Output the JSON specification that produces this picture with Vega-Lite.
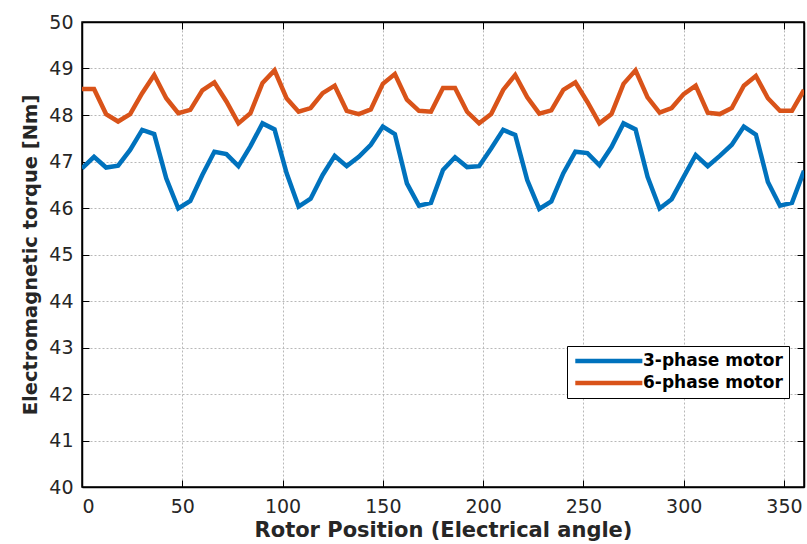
{
  "$schema": "https://vega.github.io/schema/vega-lite/v6.json",
  "autosize": "none",
  "width": 722,
  "height": 465,
  "padding": {"left": 82, "top": 22, "right": 3, "bottom": 57},
  "background": "white",
  "config": {
    "font": "DejaVu Sans",
    "view": {"stroke": "#000000", "strokeWidth": 1.5},
    "legend": {
      "fillColor": "#ffffff",
      "strokeColor": "#000000",
      "padding": 6
    },
    "axis": {
      "labelFont": "DejaVu Sans",
      "labelFontSize": 19,
      "labelColor": "#262626",
      "titleFont": "DejaVu Sans",
      "titleFontSize": 21,
      "titleFontWeight": "bold",
      "titleColor": "#262626",
      "domainColor": "#000000",
      "domainWidth": 1.5,
      "tickColor": "#000000",
      "tickSize": -7,
      "tickWidth": 1,
      "gridColor": "#b8b8b8",
      "gridDash": [2, 2],
      "gridWidth": 1
    }
  },
  "datasets": {
    "torque": [
      {"angle": 0, "3-phase motor": 46.85, "6-phase motor": 48.56},
      {"angle": 6, "3-phase motor": 47.10, "6-phase motor": 48.56},
      {"angle": 12, "3-phase motor": 46.87, "6-phase motor": 48.02},
      {"angle": 18, "3-phase motor": 46.91, "6-phase motor": 47.86},
      {"angle": 24, "3-phase motor": 47.25, "6-phase motor": 48.02},
      {"angle": 30, "3-phase motor": 47.68, "6-phase motor": 48.47},
      {"angle": 36, "3-phase motor": 47.59, "6-phase motor": 48.86},
      {"angle": 42, "3-phase motor": 46.64, "6-phase motor": 48.36},
      {"angle": 48, "3-phase motor": 45.99, "6-phase motor": 48.04},
      {"angle": 54, "3-phase motor": 46.15, "6-phase motor": 48.11},
      {"angle": 60, "3-phase motor": 46.71, "6-phase motor": 48.53},
      {"angle": 66, "3-phase motor": 47.21, "6-phase motor": 48.70},
      {"angle": 72, "3-phase motor": 47.16, "6-phase motor": 48.29},
      {"angle": 78, "3-phase motor": 46.90, "6-phase motor": 47.82},
      {"angle": 84, "3-phase motor": 47.33, "6-phase motor": 48.04},
      {"angle": 90, "3-phase motor": 47.82, "6-phase motor": 48.69},
      {"angle": 96, "3-phase motor": 47.69, "6-phase motor": 48.96},
      {"angle": 102, "3-phase motor": 46.75, "6-phase motor": 48.36},
      {"angle": 108, "3-phase motor": 46.03, "6-phase motor": 48.07},
      {"angle": 114, "3-phase motor": 46.20, "6-phase motor": 48.15},
      {"angle": 120, "3-phase motor": 46.71, "6-phase motor": 48.47},
      {"angle": 126, "3-phase motor": 47.12, "6-phase motor": 48.63},
      {"angle": 132, "3-phase motor": 46.90, "6-phase motor": 48.09},
      {"angle": 138, "3-phase motor": 47.10, "6-phase motor": 48.02},
      {"angle": 144, "3-phase motor": 47.36, "6-phase motor": 48.12},
      {"angle": 150, "3-phase motor": 47.75, "6-phase motor": 48.67},
      {"angle": 156, "3-phase motor": 47.59, "6-phase motor": 48.88},
      {"angle": 162, "3-phase motor": 46.53, "6-phase motor": 48.33},
      {"angle": 168, "3-phase motor": 46.05, "6-phase motor": 48.09},
      {"angle": 174, "3-phase motor": 46.11, "6-phase motor": 48.07},
      {"angle": 180, "3-phase motor": 46.82, "6-phase motor": 48.58},
      {"angle": 186, "3-phase motor": 47.09, "6-phase motor": 48.58},
      {"angle": 192, "3-phase motor": 46.88, "6-phase motor": 48.07},
      {"angle": 198, "3-phase motor": 46.90, "6-phase motor": 47.82},
      {"angle": 204, "3-phase motor": 47.28, "6-phase motor": 48.02},
      {"angle": 210, "3-phase motor": 47.68, "6-phase motor": 48.54},
      {"angle": 216, "3-phase motor": 47.57, "6-phase motor": 48.86},
      {"angle": 222, "3-phase motor": 46.60, "6-phase motor": 48.38},
      {"angle": 228, "3-phase motor": 45.98, "6-phase motor": 48.03},
      {"angle": 234, "3-phase motor": 46.14, "6-phase motor": 48.10},
      {"angle": 240, "3-phase motor": 46.75, "6-phase motor": 48.54},
      {"angle": 246, "3-phase motor": 47.21, "6-phase motor": 48.70},
      {"angle": 252, "3-phase motor": 47.18, "6-phase motor": 48.28},
      {"angle": 258, "3-phase motor": 46.92, "6-phase motor": 47.82},
      {"angle": 264, "3-phase motor": 47.31, "6-phase motor": 48.02},
      {"angle": 270, "3-phase motor": 47.82, "6-phase motor": 48.67},
      {"angle": 276, "3-phase motor": 47.69, "6-phase motor": 48.96},
      {"angle": 282, "3-phase motor": 46.67, "6-phase motor": 48.38},
      {"angle": 288, "3-phase motor": 45.99, "6-phase motor": 48.05},
      {"angle": 294, "3-phase motor": 46.19, "6-phase motor": 48.15},
      {"angle": 300, "3-phase motor": 46.67, "6-phase motor": 48.45},
      {"angle": 306, "3-phase motor": 47.14, "6-phase motor": 48.63},
      {"angle": 312, "3-phase motor": 46.90, "6-phase motor": 48.05},
      {"angle": 318, "3-phase motor": 47.12, "6-phase motor": 48.02},
      {"angle": 324, "3-phase motor": 47.36, "6-phase motor": 48.15},
      {"angle": 330, "3-phase motor": 47.75, "6-phase motor": 48.63},
      {"angle": 336, "3-phase motor": 47.58, "6-phase motor": 48.84},
      {"angle": 342, "3-phase motor": 46.56, "6-phase motor": 48.36},
      {"angle": 348, "3-phase motor": 46.05, "6-phase motor": 48.09},
      {"angle": 354, "3-phase motor": 46.11, "6-phase motor": 48.09},
      {"angle": 360, "3-phase motor": 46.80, "6-phase motor": 48.54}
    ]
  },
  "data": {"name": "torque"},
  "transform": [
    {"fold": ["3-phase motor", "6-phase motor"], "as": ["motor", "torque"]}
  ],
  "layer": [
    {
      "mark": {"type": "line", "strokeWidth": 4.5, "strokeJoin": "miter", "clip": true},
      "encoding": {
        "x": {
          "field": "angle", "type": "quantitative",
          "scale": {"domain": [0, 360], "nice": false, "zero": false},
          "axis": {"values": [0, 50, 100, 150, 200, 250, 300, 350], "title": "Rotor Position (Electrical angle)", "labelPadding": 17, "titlePadding": 3, "grid": true}
        },
        "y": {
          "field": "torque", "type": "quantitative",
          "scale": {"domain": [40, 50], "nice": false, "zero": false},
          "axis": {"values": [40, 41, 42, 43, 44, 45, 46, 47, 48, 49, 50], "title": "Electromagnetic torque [Nm]", "titleFontSize": 19.5, "labelPadding": 16, "titlePadding": 8, "grid": true}
        },
        "color": {
          "field": "motor", "type": "nominal",
          "scale": {"domain": ["3-phase motor", "6-phase motor"], "range": ["#0072BD", "#D95319"]},
          "legend": {
            "title": null,
            "orient": "none",
            "legendX": 485,
            "legendY": 324,
            "direction": "vertical",
            "symbolType": "M-1,0H9",
            "symbolSize": 180,
            "symbolStrokeWidth": 4.5,
            "labelFont": "DejaVu Sans",
            "labelFontSize": 17,
            "labelFontWeight": "bold",
            "labelColor": "#000000",
            "rowPadding": 4,
            "labelOffset": 52,
            "offset": 0
          }
        }
      }
    },
    {
      "mark": {"type": "line", "opacity": 0},
      "encoding": {
        "x": {
          "field": "angle", "type": "quantitative",
          "scale": {"domain": [0, 360], "nice": false, "zero": false},
          "axis": {"orient": "top", "values": [0, 50, 100, 150, 200, 250, 300, 350], "labels": false, "title": null, "grid": false}
        },
        "y": {
          "field": "torque", "type": "quantitative",
          "scale": {"domain": [40, 50], "nice": false, "zero": false},
          "axis": {"orient": "right", "values": [40, 41, 42, 43, 44, 45, 46, 47, 48, 49, 50], "labels": false, "title": null, "grid": false}
        },
        "detail": {"field": "motor", "type": "nominal"}
      }
    }
  ],
  "resolve": {"axis": {"x": "independent", "y": "independent"}}
}
